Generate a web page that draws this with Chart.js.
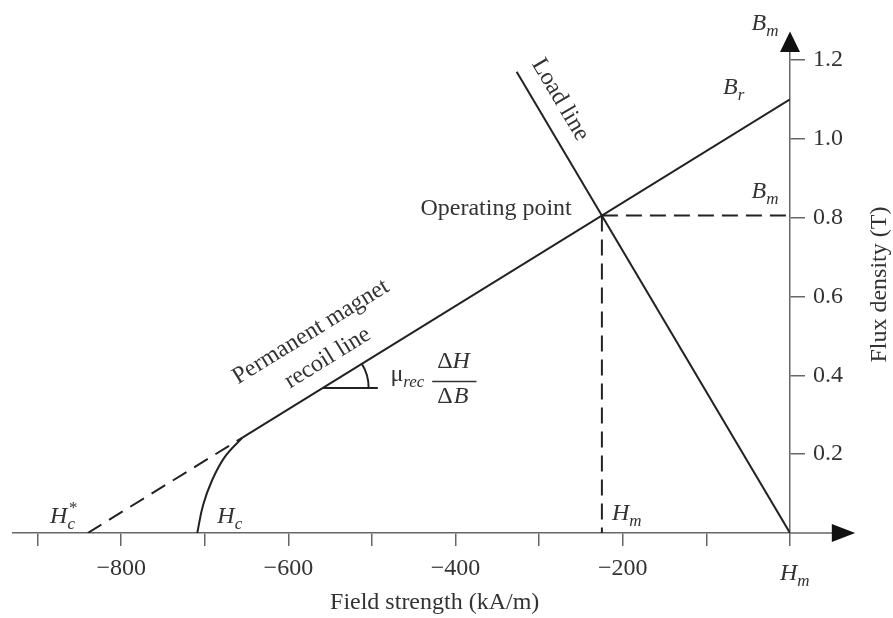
<!DOCTYPE html>
<html>
<head>
<meta charset="utf-8">
<script src="https://cdn.jsdelivr.net/npm/chart.js@4.4.0/dist/chart.umd.min.js"></script>
<style>
  html, body { margin: 0; padding: 0; background: #fff; }
</style>
</head>
<body>
<canvas id="myChart" width="893" height="618"></canvas>
<script>
// axis ticks
const xTicks = [-900, -800, -700, -600, -500, -400, -300, -200, -100, 0];
const xTickLabels = ["", "\u2212800", "", "\u2212600", "", "\u2212400", "", "\u2212200", "", ""];
const yTicks = [0.2, 0.4, 0.6, 0.8, 1.0, 1.2];
const yTickLabels = ["0.2", "0.4", "0.6", "0.8", "1.0", "1.2"];

// lines, field strength H (kA/m) and flux density B (T)
const recoilH = [-655, 0];
const recoilB = [0.242, 1.1];
const recoilExtH = [-840, -655];
const recoilExtB = [0, 0.242];
const demagH = [-709, -702, -691, -676, -655];
const demagB = [0, 0.071, 0.135, 0.193, 0.242];
const loadH = [-327, 0];
const loadB = [1.17, 0];
const bmDashH = [-225, 0];
const bmDashB = [0.805, 0.805];
const hmDashH = [-225, -225];
const hmDashB = [0.805, 0];
const angleH = [-559, -493];
const angleB = [0.368, 0.368];

const ink = "#222";
const axisCol = "#666";
const textCol = "#333";
const serif = "'Liberation Serif', 'DejaVu Serif', serif";

function pts(hs, bs) {
  return hs.map((h, i) => ({ x: h, y: bs[i] }));
}

function lineSet(hs, bs, dash, tension) {
  return {
    data: pts(hs, bs),
    borderColor: ink,
    borderWidth: 2,
    borderDash: dash || [],
    pointRadius: 0,
    tension: tension || 0,
    fill: false,
  };
}

// draw text with italic parts, subscripts and superscripts
function rich(ctx, x, y, parts) {
  let cx = x;
  parts.forEach(([t, kind]) => {
    let dy = 0;
    if (kind === "r") ctx.font = "24px " + serif;
    if (kind === "i") ctx.font = "italic 24px " + serif;
    if (kind === "sub") { ctx.font = "italic 17px " + serif; dy = 6; }
    ctx.fillText(t, cx, y + dy);
    cx += ctx.measureText(t).width;
  });
}

const decorations = {
  id: "decorations",
  afterDraw: (chart) => {
    const { ctx, chartArea } = chart;
    const xs = chart.scales.x;
    const ys = chart.scales.y;
    const px = (h) => xs.getPixelForValue(h);
    const py = (b) => ys.getPixelForValue(b);
    const x0 = px(0);
    const y0 = py(0);

    ctx.save();
    // x axis continues past the y axis to its arrow
    ctx.strokeStyle = axisCol;
    ctx.lineWidth = 1.5;
    ctx.beginPath();
    ctx.moveTo(x0, y0);
    ctx.lineTo(px(52), y0);
    ctx.stroke();

    ctx.fillStyle = "#111";
    ctx.beginPath();
    ctx.moveTo(px(50), y0 - 9);
    ctx.lineTo(px(78), y0);
    ctx.lineTo(px(50), y0 + 9);
    ctx.closePath();
    ctx.fill();

    ctx.beginPath();
    ctx.moveTo(x0 - 10, py(1.22));
    ctx.lineTo(x0, py(1.272));
    ctx.lineTo(x0 + 10, py(1.22));
    ctx.closePath();
    ctx.fill();

    // angle arc of the recoil line
    const ax = px(angleH[0]);
    const ay = py(angleB[0]);
    const ang = Math.atan2(py(recoilB[1]) - py(recoilB[0]), px(recoilH[1]) - px(recoilH[0]));
    ctx.strokeStyle = ink;
    ctx.lineWidth = 2;
    ctx.beginPath();
    ctx.arc(ax, ay, 46, ang, 0);
    ctx.stroke();

    // annotations
    ctx.fillStyle = textCol;
    ctx.textBaseline = "alphabetic";
    ctx.textAlign = "left";
    ctx.font = "24px " + serif;
    ctx.fillText("Operating point", px(-442), py(0.807));
    rich(ctx, px(-46), py(1.277), [["B", "i"], ["m", "sub"]]);
    rich(ctx, px(-80), py(1.114), [["B", "i"], ["r", "sub"]]);
    rich(ctx, px(-46), py(0.850), [["B", "i"], ["m", "sub"]]);
    rich(ctx, px(-12), py(-0.119), [["H", "i"], ["m", "sub"]]);
    rich(ctx, px(-213), py(0.033), [["H", "i"], ["m", "sub"]]);
    rich(ctx, px(-685), py(0.025), [["H", "i"], ["c", "sub"]]);
    const hx = px(-885);
    rich(ctx, hx, py(0.025), [["H", "i"], ["c", "sub"]]);
    ctx.font = "17px " + serif;
    ctx.fillText("*", hx + 19, py(0.025) - 10);
    rich(ctx, px(-478), py(0.385), [["\u03bc", "r"], ["rec", "sub"]]);

    // fraction
    ctx.textAlign = "center";
    ctx.font = "24px " + serif;
    const fx = px(-403);
    ctx.fillText("\u0394", fx - 8, py(0.419));
    ctx.font = "italic 24px " + serif;
    ctx.fillText("H", fx + 8, py(0.419));
    ctx.font = "24px " + serif;
    ctx.fillText("\u0394", fx - 8, py(0.330));
    ctx.font = "italic 24px " + serif;
    ctx.fillText("B", fx + 8, py(0.330));
    ctx.strokeStyle = textCol;
    ctx.lineWidth = 1.5;
    ctx.beginPath();
    ctx.moveTo(px(-428), py(0.384));
    ctx.lineTo(px(-375), py(0.384));
    ctx.stroke();

    // rotated labels along the lines
    ctx.font = "24px " + serif;
    ctx.textBaseline = "middle";
    ctx.save();
    ctx.translate(px(-573), py(0.510));
    ctx.rotate(ang);
    ctx.fillText("Permanent magnet", 0, 0);
    ctx.restore();
    ctx.save();
    ctx.translate(px(-553), py(0.444));
    ctx.rotate(ang);
    ctx.fillText("recoil line", 0, 0);
    ctx.restore();
    const lang = Math.atan2(py(loadB[1]) - py(loadB[0]), px(loadH[1]) - px(loadH[0]));
    ctx.save();
    ctx.translate(px(-275), py(1.099));
    ctx.rotate(lang);
    ctx.fillText("Load line", 0, 0);
    ctx.restore();

    // axis titles
    ctx.textBaseline = "alphabetic";
    ctx.fillText("Field strength (kA/m)", px(-425), chartArea.bottom + 76);
    ctx.save();
    ctx.translate(chartArea.right + 90, py(0.63));
    ctx.rotate(-Math.PI / 2);
    ctx.textBaseline = "middle";
    ctx.fillText("Flux density (T)", 0, 0);
    ctx.restore();
    ctx.restore();
  },
};

new Chart(document.getElementById("myChart"), {
  type: "line",
  data: {
    datasets: [
      lineSet(recoilH, recoilB),
      lineSet(recoilExtH, recoilExtB, [16, 9]),
      lineSet(demagH, demagB, [], 0.4),
      lineSet(loadH, loadB),
      lineSet(bmDashH, bmDashB, [16, 8]),
      lineSet(hmDashH, hmDashB, [16, 8]),
      lineSet(angleH, angleB),
    ],
  },
  options: {
    responsive: false,
    animation: false,
    devicePixelRatio: 1,
    layout: { padding: { left: 12.5, top: 52, right: 38, bottom: 40 } },
    plugins: { legend: { display: false }, tooltip: { enabled: false } },
    scales: {
      x: {
        type: "linear",
        position: "bottom",
        min: -930,
        max: 0,
        afterBuildTicks: (axis) => { axis.ticks = xTicks.map((v) => ({ value: v })); },
        afterFit: (scale) => { scale.height = 45; },
        ticks: {
          autoSkip: false,
          maxRotation: 0,
          padding: 8,
          color: textCol,
          font: { family: serif, size: 24 },
          callback: (v, i) => xTickLabels[i],
        },
        grid: { drawOnChartArea: false, drawTicks: true, tickLength: 13, color: axisCol, lineWidth: 1.5 },
        border: { display: true, color: axisCol, width: 1.5 },
      },
      y: {
        type: "linear",
        position: "right",
        min: 0,
        max: 1.22,
        afterBuildTicks: (axis) => { axis.ticks = yTicks.map((v) => ({ value: v })); },
        afterFit: (scale) => { scale.width = 65; },
        ticks: {
          autoSkip: false,
          padding: 8,
          color: textCol,
          font: { family: serif, size: 24 },
          callback: (v, i) => yTickLabels[i],
        },
        grid: { drawOnChartArea: false, drawTicks: true, tickLength: 15, color: axisCol, lineWidth: 1.5 },
        border: { display: true, color: axisCol, width: 1.5 },
      },
    },
  },
  plugins: [decorations],
});
</script>
</body>
</html>
